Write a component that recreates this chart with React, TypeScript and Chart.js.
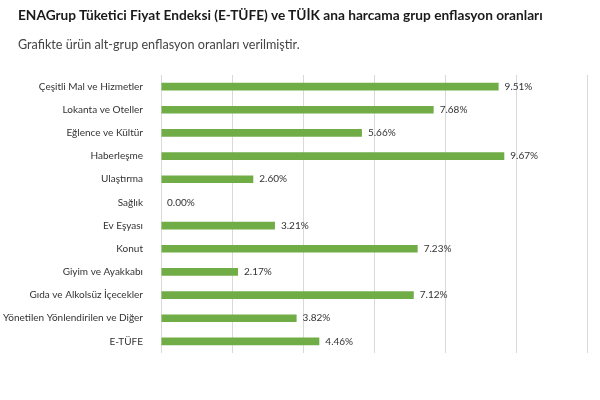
import { useEffect, useRef } from 'react'
import { Chart, registerables } from 'chart.js'

Chart.register(...registerables)

const categories = [
  'Çeşitli Mal ve Hizmetler',
  'Lokanta ve Oteller',
  'Eğlence ve Kültür',
  'Haberleşme',
  'Ulaştırma',
  'Sağlık',
  'Ev Eşyası',
  'Konut',
  'Giyim ve Ayakkabı',
  'Gıda ve Alkolsüz İçecekler',
  'Yönetilen Yönlendirilen ve Diğer',
  'E-TÜFE',
]
const rates = [9.51, 7.68, 5.66, 9.67, 2.6, 0.0, 3.21, 7.23, 2.17, 7.12, 3.82, 4.46]

const axisMin = 0
const axisMax = 12
const axisStep = 2

const titleText = 'ENAGrup Tüketici Fiyat Endeksi (E-TÜFE) ve TÜİK ana harcama grup enflasyon oranları'
const subtitleText = 'Grafikte ürün alt-grup enflasyon oranları verilmiştir.'

const labelFont = '10px Lato'

// draws "9.51%" next to each bar end
const valueLabels = {
  id: 'valueLabels',
  afterDatasetsDraw(chart: Chart) {
    const ctx = chart.ctx
    ctx.save()
    ctx.font = labelFont
    ctx.fillStyle = '#333'
    ctx.textBaseline = 'middle'
    chart.getDatasetMeta(0).data.forEach((bar: any, i: number) => {
      ctx.fillText(rates[i].toFixed(2) + '%', bar.x + 6, bar.y)
    })
    ctx.restore()
  },
}

const RateChart: React.FC = () => {
  const canvasRef = useRef<HTMLCanvasElement>(null)
  const chartRef = useRef<Chart | null>(null)

  useEffect(() => {
    if (!canvasRef.current) return
    if (chartRef.current) chartRef.current.destroy()

    chartRef.current = new Chart(canvasRef.current, {
      type: 'bar',
      data: {
        labels: categories,
        datasets: [
          {
            data: rates,
            backgroundColor: '#70AD47',
            barPercentage: 1,
            categoryPercentage: 0.33,
          },
        ],
      },
      options: {
        indexAxis: 'y',
        animation: false,
        responsive: false,
        layout: { padding: { top: 75, right: 13, bottom: 47, left: 0 } },
        plugins: {
          legend: { display: false },
          tooltip: { enabled: false },
        },
        scales: {
          x: {
            min: axisMin,
            max: axisMax,
            ticks: { stepSize: axisStep, display: false },
            grid: { color: '#d9d9d9', drawTicks: false },
            border: { display: false },
          },
          y: {
            grid: { display: false },
            border: { display: false },
            ticks: {
              color: '#333',
              font: { family: 'Lato', size: 10 },
              padding: 10,
            },
            afterFit(scale: any) {
              scale.width = 161
            },
          },
        },
      },
      plugins: [valueLabels],
    })

    return () => {
      chartRef.current?.destroy()
    }
  }, [])

  return (
    <div style={{ position: 'fixed', left: 0, top: 0, width: 600, height: 400, background: '#fff' }}>
      <canvas ref={canvasRef} width={600} height={400} style={{ position: 'absolute', left: 0, top: 0 }} />
      <div
        style={{
          position: 'absolute',
          left: 18,
          top: 6,
          fontFamily: 'Lato, sans-serif',
          fontWeight: 'bold',
          fontSize: 13.7,
          color: '#1a1a1a',
          whiteSpace: 'nowrap',
        }}
      >
        {titleText}
      </div>
      <div
        style={{
          position: 'absolute',
          left: 18,
          top: 37,
          fontFamily: 'Lato, sans-serif',
          fontSize: 12.6,
          color: '#444',
          whiteSpace: 'nowrap',
        }}
      >
        {subtitleText}
      </div>
    </div>
  )
}

export default function App() {
  return <RateChart />
}
